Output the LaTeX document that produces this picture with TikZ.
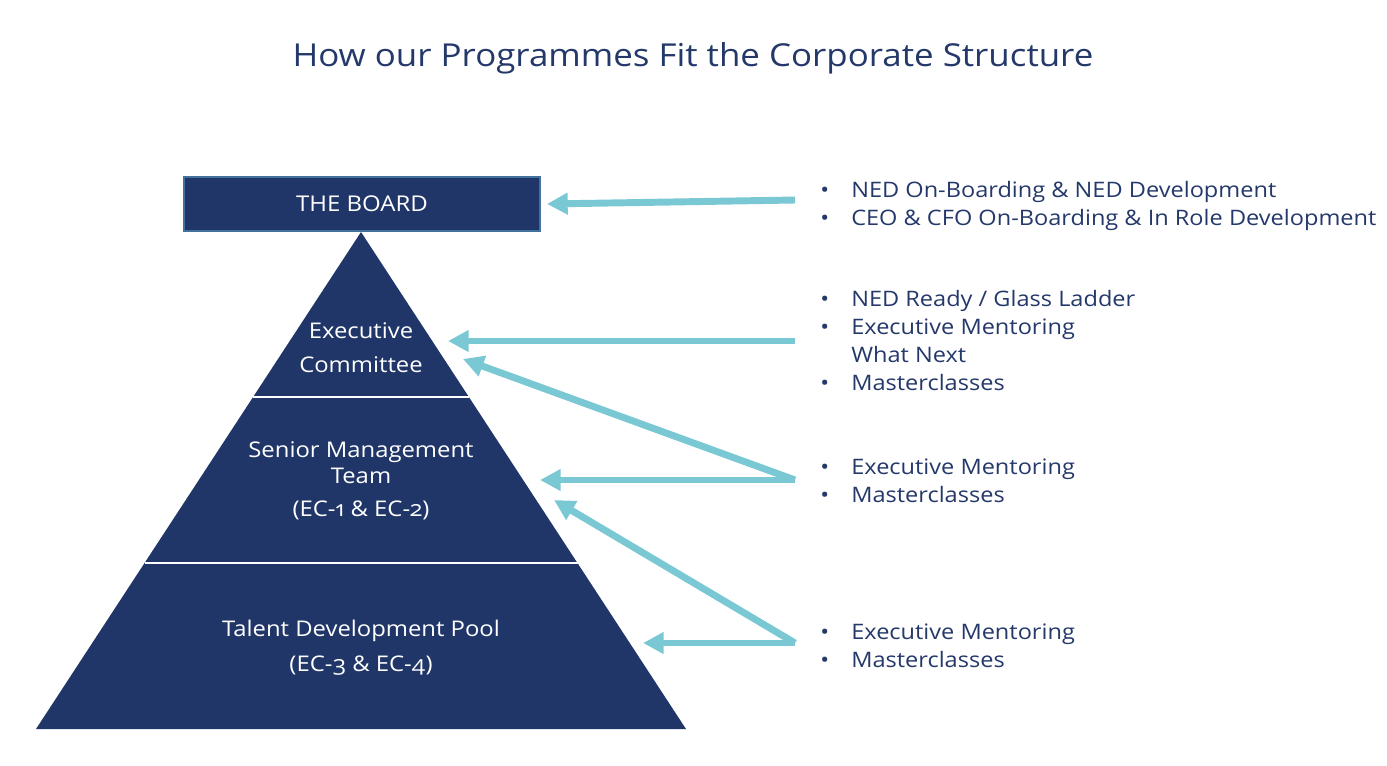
\documentclass[tikz,border=0pt]{standalone}
\usepackage{fontspec}
\setmainfont{Open Sans}[Numbers=OldStyle, FakeStretch=1.104]
\usetikzlibrary{arrows.meta, positioning}
\definecolor{BoardNavy}{RGB}{33,54,104}
\definecolor{EdgeBlue}{RGB}{65,113,156}
\definecolor{ArrowTeal}{RGB}{121,200,211}
\definecolor{TextNavy}{RGB}{36,56,106}

\tikzset{
  level/.style={text=white, font=\fontsize{16.2}{19.5}\selectfont, align=center, inner sep=0pt, anchor=base},
  prog/.style={text=TextNavy, font=\fontsize{16}{21}\selectfont, align=left, inner sep=0pt, anchor=base west},
  feed/.style={ArrowTeal, line width=5.2pt, -{Triangle[length=15.5pt, width=15.5pt]}},
}
\newcommand{\itm}{\makebox[23.25pt][l]{\textbullet}}
\newcommand{\noitm}{\hspace*{23.25pt}}

\begin{document}
\begin{tikzpicture}[x=0.75pt, y=-0.75pt]
    \useasboundingbox (0,0) rectangle (1387,765);

    % Title
    \node[text=TextNavy, font=\fontsize{23.7}{28}\selectfont, anchor=base, inner sep=0pt] (title) at (693,66)
      {How our Programmes Fit the Corporate Structure};

    % Board
    \node[fill=BoardNavy, draw=EdgeBlue, line width=0.8pt, minimum width=267pt, minimum height=40.5pt,
          text=white, font=\fontsize{16.3}{18}\selectfont] (board) at (362,204) {THE BOARD};

    % Pyramid
    \coordinate (apex) at (361,232);
    \coordinate (bl) at (36,729);
    \coordinate (br) at (686,729);
    \fill[BoardNavy] (apex) -- (br) -- (bl) -- cycle;
    \draw[white, line width=0.9pt] (253,397) -- (469,397);
    \draw[white, line width=0.9pt] (144.5,563) -- (577.5,563);

    % Level labels (anchored on their last line)
    \node[level, font=\fontsize{16.2}{25.5}\selectfont] (exec) at (361,372) {Executive\\Committee};
    \node[level] (senior) at (361,516) {Senior Management\\Team\\[5pt](EC-1 \& EC-2)};
    \node[level, font=\fontsize{16.2}{26}\selectfont] (talent) at (361,671) {Talent Development Pool\\(EC-3 \& EC-4)};

    % Programmes (anchored on their last line)
    \node[prog] (boardprog) at (820,225)
      {\itm NED On-Boarding \& NED Development\\\itm CEO \& CFO On-Boarding \& In Role Development};
    \node[prog] (execprog) at (820,390)
      {\itm NED Ready / Glass Ladder\\\itm Executive Mentoring\\\noitm What Next\\\itm Masterclasses};
    \node[prog] (seniorprog) at (820,502) {\itm Executive Mentoring\\\itm Masterclasses};
    \node[prog] (talentprog) at (820,667) {\itm Executive Mentoring\\\itm Masterclasses};

    % Arrow ends
    \coordinate (fromboard) at (795,200);
    \coordinate (fromexec) at (795,341);
    \coordinate (fromsenior) at (795,480);
    \coordinate (fromtalent) at (795,643);
    \coordinate (toboard) at (547,204);
    \coordinate (toexec) at (448,341);
    \coordinate (toexecb) at (463,359);
    \coordinate (tosenior) at (540,480);
    \coordinate (toseniorb) at (554,500);
    \coordinate (totalent) at (643,643);

    % Arrows
    \draw[feed] (fromboard) -- (toboard);
    \draw[feed] (fromexec) -- (toexec);
    \draw[feed] (fromsenior) -- (toexecb);
    \draw[feed] (fromsenior) -- (tosenior);
    \draw[feed] (fromtalent) -- (toseniorb);
    \draw[feed] (fromtalent) -- (totalent);
\end{tikzpicture}
\end{document}
